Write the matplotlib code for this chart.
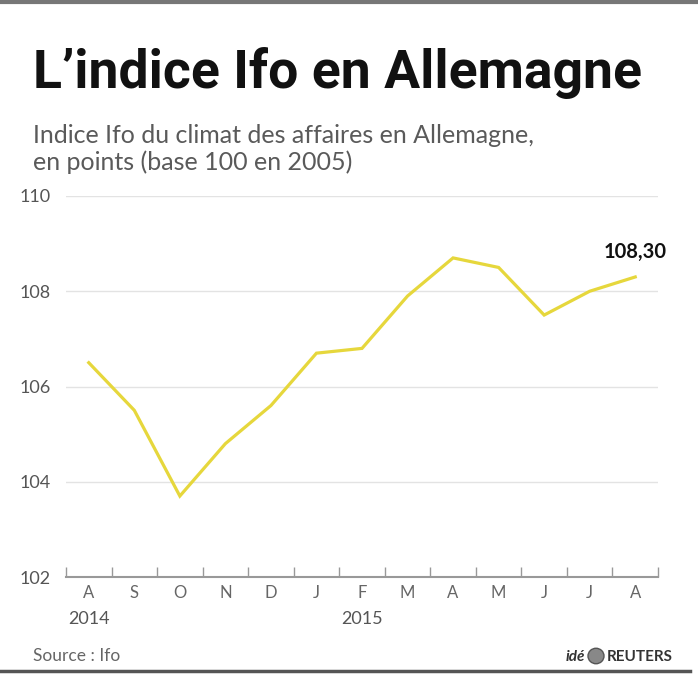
import numpy as np
import matplotlib.pyplot as plt
from matplotlib.lines import Line2D
from matplotlib.patches import Circle

# Ifo business climate index, Aug 2014 - Aug 2015
months = ['A', 'S', 'O', 'N', 'D', 'J', 'F', 'M', 'A', 'M', 'J', 'J', 'A']
years = {0: '2014', 6: '2015'}
values = [106.5, 105.5, 103.7, 104.8, 105.6, 106.7, 106.8, 107.9, 108.7, 108.5, 107.5, 108.0, 108.3]
last_label = '108,30'
yticks = [102, 104, 106, 108, 110]

W, H = 698, 675
fig = plt.figure(figsize=(W / 100, H / 100), dpi=100)
fig.patch.set_facecolor('white')

body = ['Lato', 'DejaVu Sans']
title_font = ['Liberation Sans Narrow', 'Roboto', 'DejaVu Sans']

ax = fig.add_axes([66 / W, (H - 577) / H, 592 / W, (577 - 196) / H])
x = np.arange(len(months))
ax.plot(x, values, color='#e6d73c', lw=2.3, solid_joinstyle='miter', zorder=3)

ax.set_ylim(102, 110)
ax.set_xlim(-0.5, len(months) - 0.5)
ax.set_yticks(yticks)
ax.set_yticklabels([str(v) for v in yticks], fontsize=13, color='#555555', family=body)
ax.tick_params(axis='y', length=0, pad=11)
ax.grid(axis='y', color='#e3e3e3', lw=1)
ax.set_axisbelow(True)

ax.set_xticks(x)
ax.set_xticklabels(months, fontsize=12, color='#666666', family=body)
ax.set_xticks(np.arange(-0.5, len(months)), minor=True)
ax.tick_params(axis='x', which='major', length=0, pad=6)
ax.tick_params(axis='x', which='minor', direction='in', length=7, color='#999999', width=1)
for i, yr in years.items():
    ax.text(i, -0.09, yr, transform=ax.get_xaxis_transform(), ha='center', va='top',
            fontsize=13, color='#555555', family=body)

for s in ['top', 'right', 'left']:
    ax.spines[s].set_visible(False)
ax.spines['bottom'].set_color('#999999')
ax.spines['bottom'].set_linewidth(1.5)

ax.annotate(last_label, (x[-1], values[-1]), xytext=(0, 11), textcoords='offset points',
            ha='center', va='bottom', fontsize=14.5, fontweight='bold', color='#111111', family=body)

# header and footer
fig.text(33 / W, 1 - 88 / H, 'L\u2019indice Ifo en Allemagne', fontsize=38.5, fontweight='bold',
         family=title_font, color='#111111', va='baseline')
fig.text(33 / W, 1 - 143 / H, 'Indice Ifo du climat des affaires en Allemagne,', fontsize=18,
         family=body, color='#5a5a5a', va='baseline')
fig.text(33 / W, 1 - 170 / H, 'en points (base 100 en 2005)', fontsize=18,
         family=body, color='#5a5a5a', va='baseline')
fig.text(33 / W, 1 - 661 / H, 'Source : Ifo', fontsize=12.5, family=body, color='#666666', va='baseline')
fig.text(585 / W, 1 - 661 / H, 'idé', fontsize=11, family=body, fontweight='bold', style='italic',
         color='#333333', va='baseline', ha='right')
fig.patches.append(Circle((596 / W, 1 - 656 / H), 8 / W, transform=fig.transFigure,
                          facecolor='#888888', edgecolor='#555555'))
fig.text(607 / W, 1 - 661 / H, 'REUTERS', fontsize=11, family=body, fontweight='bold',
         color='#333333', va='baseline')

fig.lines.append(Line2D([0, 1], [1 - 1.5 / H, 1 - 1.5 / H], transform=fig.transFigure,
                        color='#777777', lw=3))
fig.lines.append(Line2D([0, 690 / W], [1 - 671 / H, 1 - 671 / H], transform=fig.transFigure,
                        color='#555555', lw=2.5))

fig.savefig('out.png', dpi=100, facecolor='white')
